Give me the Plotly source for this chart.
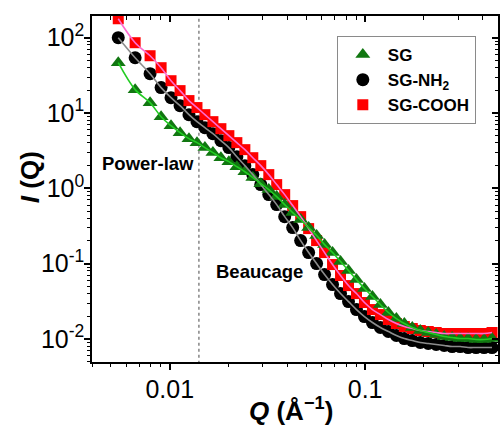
import plotly.graph_objects as go

# ---- data ----
q = [0.00545, 0.00665, 0.00793, 0.00903, 0.01015, 0.01129, 0.01254, 0.01378, 0.01513,
     0.01663, 0.01827, 0.02007, 0.02205, 0.02423, 0.02661, 0.02924, 0.03213, 0.03526,
     0.03875, 0.04257, 0.04677, 0.05138, 0.05643, 0.06200, 0.06811, 0.07482, 0.08219,
     0.0903, 0.0992, 0.1090, 0.1197, 0.1315, 0.1445, 0.1587, 0.1743, 0.1915, 0.2104,
     0.2311, 0.2539, 0.2789, 0.3063, 0.3365, 0.3697, 0.4061, 0.4461]

i_sg = [46.5, 20.4, 13.7, 8.93, 6.78, 5.48, 4.56, 4.04, 3.47, 2.98, 2.55, 2.26, 1.94,
        1.66, 1.39, 1.15, 0.961, 0.776, 0.608, 0.476, 0.385, 0.301, 0.236, 0.179, 0.1404,
        0.1066, 0.0810, 0.0615, 0.0468, 0.0366, 0.0287, 0.0225, 0.0187, 0.01606, 0.01421,
        0.01297, 0.01220, 0.01147, 0.01079, 0.01047, 0.01015, 0.01015, 0.00985, 0.00985,
        0.01015]

i_nh2 = [99.7, 54.1, 33.2, 21.7, 15.96, 12.5, 9.5, 7.67, 6.38, 5.31, 4.29, 3.47, 2.63,
         2.00, 1.52, 1.12, 0.825, 0.608, 0.421, 0.301, 0.2025, 0.1404, 0.1003, 0.0717,
         0.0528, 0.0401, 0.0314, 0.0246, 0.01988, 0.01655, 0.01421, 0.01258, 0.01113,
         0.01015, 0.00955, 0.00899, 0.00872, 0.00846, 0.00820, 0.00795, 0.00795, 0.00771,
         0.00771, 0.00771, 0.00771]

i_cooh = [178, 85.6, 57.5, 39.9, 26.8, 19.8, 14.6, 11.8, 9.5, 7.67, 6.19, 5.00, 4.04,
          3.26, 2.55, 2.00, 1.52, 1.12, 0.825, 0.590, 0.421, 0.292, 0.2025, 0.1404, 0.0973,
          0.0696, 0.0512, 0.0401, 0.0305, 0.0246, 0.0211, 0.01814, 0.01606, 0.01465,
          0.01378, 0.01297, 0.01258, 0.01220, 0.01183, 0.01183, 0.01183, 0.01183, 0.01183,
          0.01183, 0.01220]

series_names = ["SG", "SG-NH<sub>2</sub>", "SG-COOH"]
boundary_q = 0.0141

x_tickvals = [0.01, 0.1]
x_ticktext = ["0.01", "0.1"]
y_tickvals = [0.01, 0.1, 1, 10, 100]
y_ticktext = ["10<sup>-2</sup>", "10<sup>-1</sup>", "10<sup>0</sup>", "10<sup>1</sup>", "10<sup>2</sup>"]

x_range = [-2.398, -0.320]
y_range = [-2.305, 2.287]

# minor tick positions
x_minor = [m * 10 ** e for e in (-3, -2, -1) for m in range(2, 10)]
x_minor = [v for v in x_minor if 10 ** x_range[0] <= v <= 10 ** x_range[1]]
y_minor = [m * 10 ** e for e in (-3, -2, -1, 0, 1, 2) for m in range(2, 10)]
y_minor = [v for v in y_minor if 10 ** y_range[0] <= v <= 10 ** y_range[1]]

FONT = "Liberation Sans, Arial, sans-serif"
fig = go.Figure()

# dotted boundary line
fig.add_trace(go.Scatter(x=[boundary_q, boundary_q], y=[1e-4, 1e4], mode="lines",
                         line=dict(color="#666666", width=1.2, dash="dot"),
                         showlegend=False, hoverinfo="skip"))

# markers
fig.add_trace(go.Scatter(x=q, y=i_nh2, mode="markers", name=series_names[1], legendrank=2,
                         marker=dict(symbol="circle", size=13, color="black")))
fig.add_trace(go.Scatter(x=q, y=i_cooh, mode="markers", name=series_names[2], legendrank=3,
                         marker=dict(symbol="square", size=11, color="#ff0000")))
fig.add_trace(go.Scatter(x=q, y=i_sg, mode="markers", name=series_names[0], legendrank=1,
                         marker=dict(symbol="triangle-up", size=13, color="#117711")))

# fit lines
fig.add_trace(go.Scatter(x=q, y=i_nh2, mode="lines", line=dict(color="#8c8c8c", width=1.6, shape="spline"),
                         showlegend=False))
fig.add_trace(go.Scatter(x=q, y=i_cooh, mode="lines", line=dict(color="#ff6ad0", width=1.6, shape="spline"),
                         showlegend=False))
fig.add_trace(go.Scatter(x=q, y=i_sg, mode="lines", line=dict(color="#22cc22", width=1.6, shape="spline"),
                         showlegend=False))

# dummy trace for the mirrored axes
fig.add_trace(go.Scatter(x=[None], y=[None], xaxis="x2", yaxis="y2", showlegend=False, hoverinfo="skip"))

common = dict(type="log", showgrid=False, zeroline=False)
fig.update_layout(
    width=503, height=429,
    margin=dict(l=92, r=3, t=16, b=67),
    paper_bgcolor="white", plot_bgcolor="white",
    font=dict(family=FONT, color="black"),
    showlegend=True,
    legend=dict(x=0.603, y=0.942, xanchor="left", yanchor="top",
                bordercolor="#8a8a8a", borderwidth=1, bgcolor="white",
                font=dict(size=17, family=FONT, weight="bold"),
                tracegroupgap=0, itemwidth=40),
    xaxis=dict(**common, range=x_range, showline=True, linecolor="black", linewidth=1.5,
               mirror=True, ticks="outside", ticklen=6, tickwidth=1.5, tickcolor="black",
               tickmode="array", tickvals=x_tickvals, ticktext=x_ticktext,
               tickfont=dict(size=25, family=FONT), ticklabelstandoff=-2,
               minor=dict(tickmode="array", tickvals=x_minor, ticks="outside", ticklen=3.5,
                          tickwidth=1.2, tickcolor="black", showgrid=False)),
    yaxis=dict(**common, range=y_range, showline=True, linecolor="black", linewidth=1.5,
               mirror=True, ticks="outside", ticklen=6, tickwidth=1.5, tickcolor="black",
               tickmode="array", tickvals=y_tickvals, ticktext=y_ticktext,
               tickfont=dict(size=25, family=FONT), ticklabelstandoff=-5,
               minor=dict(tickmode="array", tickvals=y_minor, ticks="outside", ticklen=3.5,
                          tickwidth=1.2, tickcolor="black", showgrid=False)),
    xaxis2=dict(**common, range=x_range, overlaying="x", side="top", anchor="y",
                showline=False, ticks="inside", ticklen=6, tickwidth=1.5, tickcolor="black",
                tickmode="array", tickvals=x_tickvals, showticklabels=False,
                minor=dict(tickmode="array", tickvals=x_minor, ticks="inside", ticklen=3.5,
                           tickwidth=1.2, tickcolor="black", showgrid=False)),
    yaxis2=dict(**common, range=y_range, overlaying="y", side="right", anchor="x",
                showline=False, ticks="inside", ticklen=6, tickwidth=1.5, tickcolor="black",
                tickmode="array", tickvals=y_tickvals, showticklabels=False,
                minor=dict(tickmode="array", tickvals=y_minor, ticks="inside", ticklen=3.5,
                           tickwidth=1.2, tickcolor="black", showgrid=False)),
    annotations=[
        dict(text="<b><i>I</i> (Q)</b>", xref="paper", yref="paper", x=-0.152, y=0.535,
             xanchor="center", yanchor="middle",
             textangle=-90, showarrow=False, font=dict(size=26, family=FONT)),
        dict(text="<b><i>Q</i> (Å<sup>−1</sup>)</b>", xref="paper", yref="paper", x=0.49, y=-0.137,
             xanchor="center", yanchor="middle",
             showarrow=False, font=dict(size=26, family=FONT)),
        dict(text="<b>Power-law</b>", xref="paper", yref="paper", x=0.0196, y=0.575,
             xanchor="left", yanchor="middle", showarrow=False, font=dict(size=18.5, family=FONT)),
        dict(text="<b>Beaucage</b>", xref="paper", yref="paper", x=0.301, y=0.263,
             xanchor="left", yanchor="middle", showarrow=False, font=dict(size=18.5, family=FONT)),
    ],
)

fig.write_html("out.html")
